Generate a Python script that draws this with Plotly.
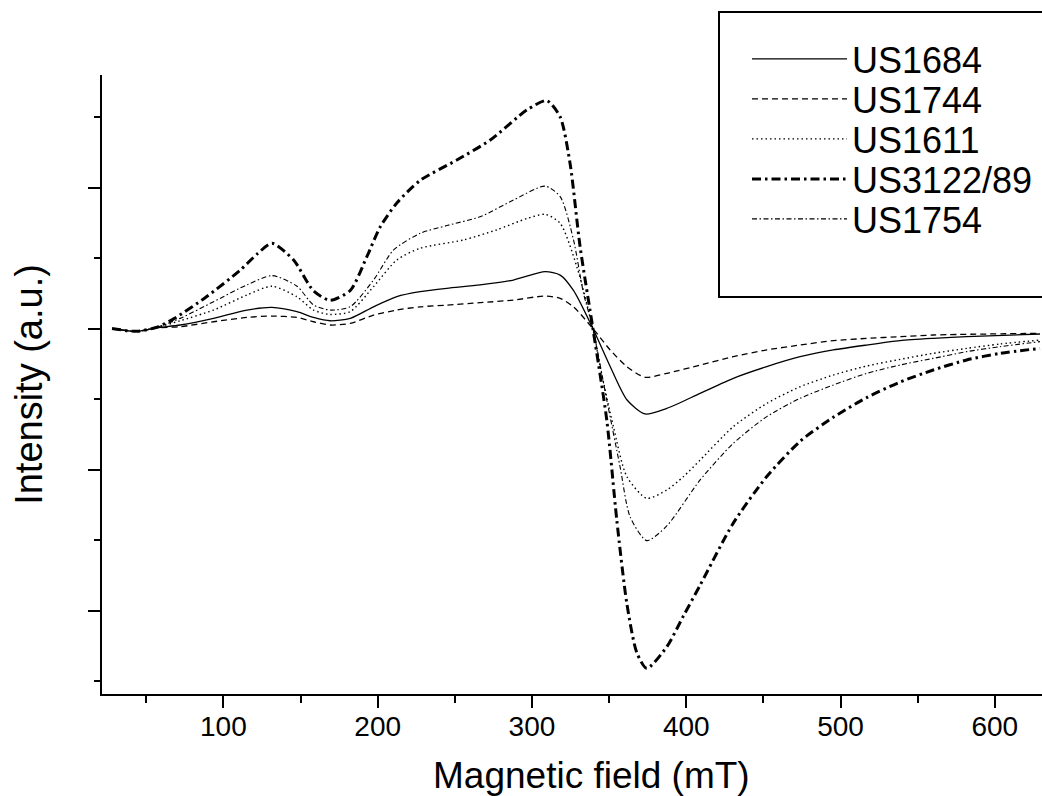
import plotly.graph_objects as go

# ---- data (field in mT, intensity in arbitrary units) ----
x_us1684 = [27.8, 44, 57, 72, 93.6, 115.3, 131.5, 147.7, 158.4, 169.2, 182.2, 197.3, 212.4, 227.5, 244.8, 266.4, 288, 308.5, 318.3, 326.9, 339.5, 350.7, 361.5, 373.3, 387.4, 409, 430.5, 452.2, 473.8, 495.3, 517, 538.5, 560.1, 581.8, 629.3]
y_us1684 = [0, -0.02, 0.005, 0.025, 0.072, 0.131, 0.150, 0.119, 0.079, 0.055, 0.072, 0.154, 0.226, 0.261, 0.285, 0.309, 0.344, 0.403, 0.379, 0.27, 0, -0.27, -0.505, -0.606, -0.566, -0.460, -0.353, -0.270, -0.200, -0.152, -0.117, -0.086, -0.070, -0.058, -0.039]

x_us1744 = [27.8, 44, 57, 72, 93.6, 115.3, 131.5, 147.7, 158.4, 169.2, 182.2, 197.3, 212.4, 227.5, 244.8, 266.4, 288, 308.5, 318.3, 326.9, 339.5, 350.7, 361.5, 373.3, 387.4, 409, 430.5, 452.2, 473.8, 495.3, 517, 538.5, 560.1, 629.3]
y_us1744 = [0, -0.02, 0.005, 0.013, 0.048, 0.079, 0.088, 0.079, 0.048, 0.025, 0.036, 0.095, 0.131, 0.154, 0.166, 0.183, 0.202, 0.230, 0.214, 0.154, 0, -0.152, -0.27, -0.346, -0.318, -0.259, -0.200, -0.152, -0.117, -0.086, -0.070, -0.058, -0.046, -0.034]

x_us1611 = [27.8, 44, 57, 72, 93.6, 115.3, 131.5, 147.7, 158.4, 169.2, 182.2, 197.3, 212.4, 227.5, 255.6, 277.2, 296.7, 308.5, 318.3, 329.1, 339.5, 344.2, 352.8, 361.5, 374.4, 387.4, 398.1, 409, 430.5, 452.2, 473.8, 495.3, 517, 538.5, 560.1, 581.8, 603.3, 629.3]
y_us1611 = [0, -0.02, 0.008, 0.055, 0.131, 0.238, 0.30, 0.225, 0.131, 0.10, 0.12, 0.297, 0.486, 0.569, 0.628, 0.70, 0.78, 0.81, 0.746, 0.438, 0, -0.27, -0.696, -1.05, -1.204, -1.145, -1.051, -0.933, -0.696, -0.531, -0.413, -0.330, -0.266, -0.219, -0.176, -0.141, -0.110, -0.082]

x_us3122 = [27.8, 44, 57, 68, 89, 111, 122, 131.5, 145.5, 158.2, 169.2, 182.2, 193, 201.6, 212.4, 227.5, 251.3, 273, 296.7, 309.6, 318.3, 324.7, 331.2, 339.5, 348.5, 355, 361.5, 368, 374.4, 387.4, 398.1, 409, 430.5, 452.2, 473.8, 495.3, 517, 538.5, 560.1, 581.8, 603.3, 629.3]
y_us3122 = [0, -0.02, 0.01, 0.07, 0.225, 0.415, 0.53, 0.604, 0.486, 0.27, 0.20, 0.27, 0.51, 0.72, 0.89, 1.05, 1.195, 1.337, 1.55, 1.616, 1.50, 1.17, 0.58, 0, -0.65, -1.36, -1.95, -2.30, -2.41, -2.257, -2.04, -1.82, -1.38, -1.05, -0.80, -0.63, -0.49, -0.38, -0.294, -0.223, -0.176, -0.141]

x_us1754 = [27.8, 44, 57, 72, 93.6, 115.3, 131.5, 147.7, 158.4, 169.2, 182.2, 197.3, 210.3, 227.5, 244.8, 266.4, 288, 308.5, 318.3, 326.9, 333.4, 339.5, 348.5, 357.1, 363.6, 374.4, 387.4, 409, 430.5, 452.2, 473.8, 495.3, 517, 538.5, 560.1, 581.8, 603.3, 629.3]
y_us1754 = [0, -0.02, 0.01, 0.072, 0.19, 0.31, 0.375, 0.30, 0.167, 0.131, 0.155, 0.344, 0.557, 0.675, 0.73, 0.793, 0.911, 1.01, 0.935, 0.63, 0.25, 0, -0.507, -0.98, -1.335, -1.504, -1.40, -1.074, -0.814, -0.625, -0.495, -0.401, -0.318, -0.259, -0.212, -0.164, -0.129, -0.093]

series_names = ["US1684", "US1744", "US1611", "US3122/89", "US1754"]
x_tick_vals = [100, 200, 300, 400, 500, 600]
x_tick_text = ["100", "200", "300", "400", "500", "600"]
x_title = "Magnetic field (mT)"
y_title = "Intensity (a.u.)"

# ---- styles ----
FONT = "Arial, Liberation Sans, Helvetica, sans-serif"
styles = [
    dict(width=1.3, dash="solid"),
    dict(width=1.3, dash="6px,4px"),
    dict(width=1.4, dash="1.5px,3px"),
    dict(width=3.0, dash="9px,4px,2.5px,4px"),
    dict(width=1.1, dash="5px,2.5px,1.5px,2.5px"),
]
xs = [x_us1684, x_us1744, x_us1611, x_us3122, x_us1754]
ys = [y_us1684, y_us1744, y_us1611, y_us3122, y_us1754]
legend_ids = ["legend", "legend2", "legend3", "legend4", "legend5"]

W, H = 1042, 796
L, R, T, B = 102, 0, 75, 102
pw, ph = W - L - R, H - T - B

def px_x(p):
    return (p - L) / pw

def px_y(p):
    return (H - B - p) / ph

fig = go.Figure()
for name, x, y, st, lg in zip(series_names, xs, ys, styles, legend_ids):
    fig.add_trace(go.Scatter(
        x=x, y=y, name=name, mode="lines", legend=lg,
        line=dict(color="black", width=st["width"], dash=st["dash"],
                  shape="spline", smoothing=0.7),
    ))

# one legend per row so rows sit 40 px apart, as in the reference
legend_layout = {}
for i, lg in enumerate(legend_ids):
    legend_layout[lg] = dict(
        x=px_x(747), y=px_y(29 + 40 * i), xanchor="left", yanchor="top",
        bgcolor="rgba(0,0,0,0)", borderwidth=0,
        font=dict(size=36, family=FONT, color="black"),
        itemwidth=95,
    )

fig.update_layout(
    width=W, height=H,
    margin=dict(l=L, r=R, t=T, b=B, autoexpand=False),
    paper_bgcolor="white", plot_bgcolor="white",
    font=dict(family=FONT, color="black"),
    showlegend=True,
    shapes=[dict(
        type="rect", xref="paper", yref="paper",
        x0=px_x(719), x1=px_x(1060), y0=px_y(297), y1=px_y(12),
        line=dict(color="black", width=2), fillcolor="rgba(0,0,0,0)", layer="above",
    )],
    annotations=[dict(
        text=x_title, xref="paper", yref="paper",
        x=px_x(591.5), y=px_y(775), xanchor="center", yanchor="middle",
        showarrow=False, font=dict(size=37, family=FONT, color="black"),
    )],
    xaxis=dict(
        range=[21.3, 630.6], showgrid=False, zeroline=False,
        showline=True, linecolor="black", linewidth=2,
        ticks="outside", ticklen=12, tickwidth=2, tickcolor="black",
        tickvals=x_tick_vals, ticktext=x_tick_text,
        tickfont=dict(size=28, family=FONT),
        ticklabelstandoff=-6,
        minor=dict(dtick=50, tick0=0, ticks="outside", ticklen=7, tickwidth=2, tickcolor="black"),
    ),
    yaxis=dict(
        range=[-2.592, 1.798], showgrid=False, zeroline=False,
        showline=True, linecolor="black", linewidth=2,
        ticks="outside", ticklen=12, tickwidth=2, tickcolor="black",
        tick0=0, dtick=1, showticklabels=False,
        minor=dict(dtick=0.5, tick0=0, ticks="outside", ticklen=6, tickwidth=2, tickcolor="black"),
        title=dict(text=y_title, font=dict(size=38, family=FONT), standoff=34),
    ),
    **legend_layout,
)

fig.write_html("out.html")
